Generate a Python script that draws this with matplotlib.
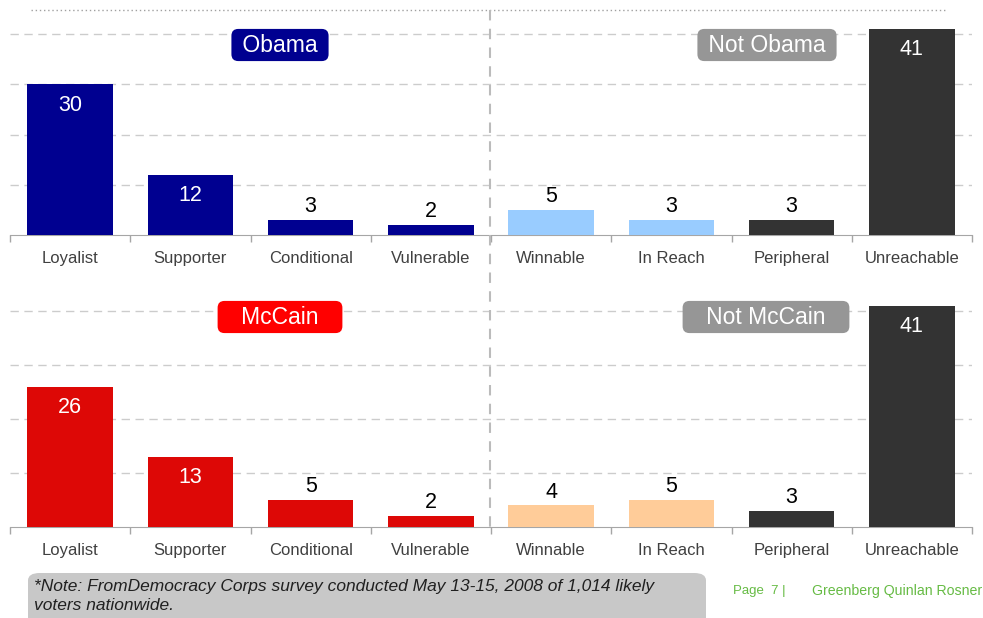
import numpy as np
import matplotlib.pyplot as plt
from matplotlib.lines import Line2D
from matplotlib.patches import FancyBboxPatch
from matplotlib.transforms import blended_transform_factory

plt.rcParams['font.family'] = ['Liberation Sans', 'DejaVu Sans']

categories = ['Loyalist', 'Supporter', 'Conditional', 'Vulnerable',
              'Winnable', 'In Reach', 'Peripheral', 'Unreachable']
obama_values = [30, 12, 3, 2, 5, 3, 3, 41]
mccain_values = [26, 13, 5, 2, 4, 5, 3, 41]

NAVY = '#000090'
RED = '#DD0806'
LIGHT_BLUE = '#99CCFF'
PEACH = '#FFCC99'
DARK = '#333333'
obama_colors = [NAVY] * 4 + [LIGHT_BLUE] * 2 + [DARK] * 2
mccain_colors = [RED] * 4 + [PEACH] * 2 + [DARK] * 2

W, H = 983, 618
fig = plt.figure(figsize=(W / 100, H / 100), dpi=100)


def px_axes(left, top, right, bottom):
    return fig.add_axes([left / W, 1 - bottom / H, (right - left) / W, (bottom - top) / H])


def draw_panel(ax, values, colors, label_baseline):
    x = np.arange(len(values))
    ax.bar(x, values, width=0.71, color=colors, zorder=3)
    ax.set_xlim(-0.5, len(values) - 0.5)
    ax.set_ylim(0, 45)
    ax.set_yticks([10, 20, 30, 40])
    ax.yaxis.grid(True, color='#CCCCCC', linestyle=(0, (6, 4)), linewidth=1.0, zorder=0)
    ax.tick_params(axis='y', left=False, labelleft=False)
    ax.set_xticks(np.arange(-0.5, len(values)))
    ax.tick_params(axis='x', length=5, color='#A6A6A6', width=1, labelbottom=False)
    for side in ['top', 'left', 'right']:
        ax.spines[side].set_visible(False)
    ax.spines['bottom'].set_color('#A6A6A6')
    # category names sit on a common baseline
    trans = blended_transform_factory(ax.transData, fig.transFigure)
    for xi, name in zip(x, categories):
        ax.text(xi, 1 - label_baseline / H, name, transform=trans, ha='center',
                va='baseline', fontsize=12, color='#404040')
    for xi, v in zip(x, values):
        if v >= 10:
            ax.annotate(str(v), (xi, v), xytext=(0, -15), textcoords='offset points',
                        ha='center', va='center', color='white', fontsize=15.5)
        else:
            ax.annotate(str(v), (xi, v), xytext=(0, 2), textcoords='offset points',
                        ha='center', va='bottom', color='black', fontsize=15.5)


ax_top = px_axes(10, 9, 972, 235)
draw_panel(ax_top, obama_values, obama_colors, 263)
ax_bot = px_axes(10, 284, 972, 527)
draw_panel(ax_bot, mccain_values, mccain_colors, 555)


# group headers
def header(x, y, text, color):
    fig.text(x / W, 1 - y / H, text, ha='center', va='center', color='white', fontsize=16.5,
             bbox=dict(boxstyle='round,pad=0.2,rounding_size=0.3', fc=color, ec='none'))


header(280, 45, ' Obama ', NAVY)
header(767, 45, ' Not Obama ', '#969696')
header(280, 317, '   McCain   ', '#FF0000')
header(766, 317, '   Not McCain   ', '#969696')

# dotted rule along the top and dashed divider between groups
fig.add_artist(Line2D([31 / W, 945 / W], [1 - 10 / H, 1 - 10 / H], color='#A0A0A0',
                      linestyle=(0, (1, 2)), linewidth=1.0))
fig.add_artist(Line2D([490 / W, 490 / W], [1 - 10 / H, 1 - 527 / H], color='#BBBBBB',
                      linestyle=(0, (5, 4)), linewidth=1.5))

# footnote
fig.add_artist(FancyBboxPatch((28 / W, 1 - 625 / H), 678 / W, 52 / H,
                              boxstyle='round,pad=0,rounding_size=0.012',
                              fc='#C8C8C8', ec='none', transform=fig.transFigure))
fig.text(34 / W, 1 - 579 / H,
         '*Note: FromDemocracy Corps survey conducted May 13-15, 2008 of 1,014 likely\nvoters nationwide.',
         ha='left', va='top', fontsize=12.5, style='italic', color='#202020', linespacing=1.3)
fig.text(733 / W, 1 - 591 / H, 'Page  7 |', ha='left', va='center', fontsize=9.5, color='#66BB44')
fig.text(812 / W, 1 - 591 / H, 'Greenberg Quinlan Rosner', ha='left', va='center',
         fontsize=10.2, color='#66BB44')

fig.savefig('out.png', dpi=100)
